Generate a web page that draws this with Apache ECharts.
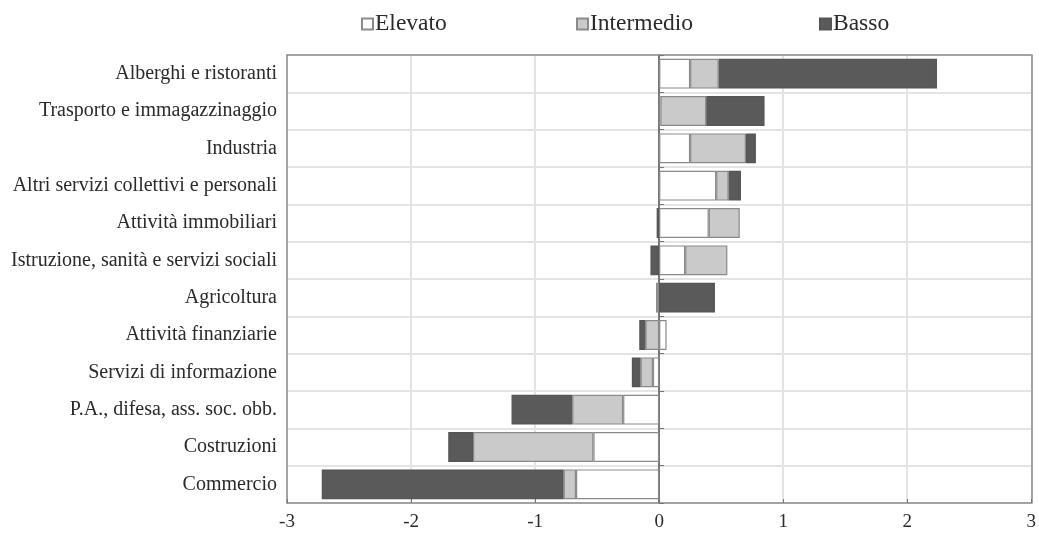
<!DOCTYPE html>
<html>
<head>
<meta charset="utf-8">
<script src="https://cdn.jsdelivr.net/npm/echarts@6/dist/echarts.min.js"></script>
<style>html,body{margin:0;padding:0;background:#fff;}#c{width:1039px;height:534px;}</style>
</head>
<body>
<div id="c"></div>
<script>
const categories = [
  "Alberghi e ristoranti",
  "Trasporto e immagazzinaggio",
  "Industria",
  "Altri servizi collettivi e personali",
  "Attività immobiliari",
  "Istruzione, sanità e servizi sociali",
  "Agricoltura",
  "Attività finanziarie",
  "Servizi di informazione",
  "P.A., difesa, ass. soc. obb.",
  "Costruzioni",
  "Commercio"
];
const elevato    = [0.25, 0.01, 0.25, 0.46, 0.40, 0.21, -0.02, 0.06, -0.05, -0.29, -0.53, -0.67];
const intermedio = [0.23, 0.37, 0.45, 0.10, 0.25, 0.34, 0.00, -0.11, -0.10, -0.41, -0.97, -0.10];
const basso      = [1.76, 0.47, 0.08, 0.10, -0.02, -0.07, 0.45, -0.05, -0.07, -0.49, -0.20, -1.95];
const seriesNames = ['Elevato', 'Intermedio', 'Basso'];
const xTicks = [-3, -2, -1, 0, 1, 2, 3];

const font = "'Liberation Serif', 'DejaVu Serif', serif";
const frameColor = '#8c8c8c';
const chart = echarts.init(document.getElementById('c'));
function barSeries(name, data, fill, border) {
  return {
    name, type: 'bar', stack: 'tot', data,
    barCategoryGap: '20%',
    itemStyle: { color: fill, borderColor: border, borderWidth: 1.2 },
    emphasis: { disabled: true }
  };
}
const legendLefts = [356, 571, 814];
chart.setOption({
  animation: false,
  textStyle: { fontFamily: font },
  legend: seriesNames.map((n, i) => ({
    left: legendLefts[i], top: 7,
    itemWidth: 11, itemHeight: 11,
    icon: 'rect',
    selectedMode: false,
    textStyle: { fontFamily: font, fontSize: 23.5, color: '#2a2a2a', padding: [0, 0, 0, -3] },
    data: [n]
  })),
  grid: { left: 287, right: 5, top: 55, bottom: 31, containLabel: false },
  xAxis: [{
    type: 'value', min: -3, max: 3, interval: 1, position: 'bottom',
    axisLine: { show: true, onZero: false, lineStyle: { color: frameColor, width: 1.5 } },
    axisTick: { show: true, inside: true, length: 4, lineStyle: { color: '#777' } },
    splitLine: { show: true, lineStyle: { color: '#e4e4e4', width: 2 } },
    axisLabel: { fontFamily: font, fontSize: 19, color: '#2a2a2a', margin: 10,
      formatter: v => xTicks.includes(v) ? String(v) : '' }
  }, {
    type: 'value', min: -3, max: 3, interval: 1, position: 'top',
    axisLine: { show: true, onZero: false, lineStyle: { color: frameColor, width: 1.5 } },
    axisTick: { show: false }, axisLabel: { show: false }, splitLine: { show: false }
  }],
  yAxis: [{
    type: 'category', data: categories, inverse: true, position: 'left',
    axisLine: { show: true, onZero: false, lineStyle: { color: frameColor, width: 1.5 } },
    axisTick: { show: false },
    splitLine: { show: true, lineStyle: { color: '#e4e4e4', width: 2 } },
    axisLabel: { fontFamily: font, fontSize: 20, color: '#2a2a2a', margin: 10 }
  }, {
    type: 'category', data: categories, inverse: true, position: 'left',
    axisLine: { show: true, onZero: true, lineStyle: { color: '#555', width: 1.5 } },
    axisTick: { show: true, inside: true, length: 5, lineStyle: { color: '#777' } },
    axisLabel: { show: false },
    splitLine: { show: false }
  }, {
    type: 'category', data: categories, inverse: true, position: 'right',
    axisLine: { show: true, onZero: false, lineStyle: { color: frameColor, width: 1.5 } },
    axisTick: { show: false }, axisLabel: { show: false }, splitLine: { show: false }
  }],
  series: [
    barSeries('Elevato', elevato, '#ffffff', '#8a8a8a'),
    barSeries('Intermedio', intermedio, '#cacaca', '#8a8a8a'),
    barSeries('Basso', basso, '#5a5a5a', '#555555')
  ]
});
</script>
</body>
</html>
